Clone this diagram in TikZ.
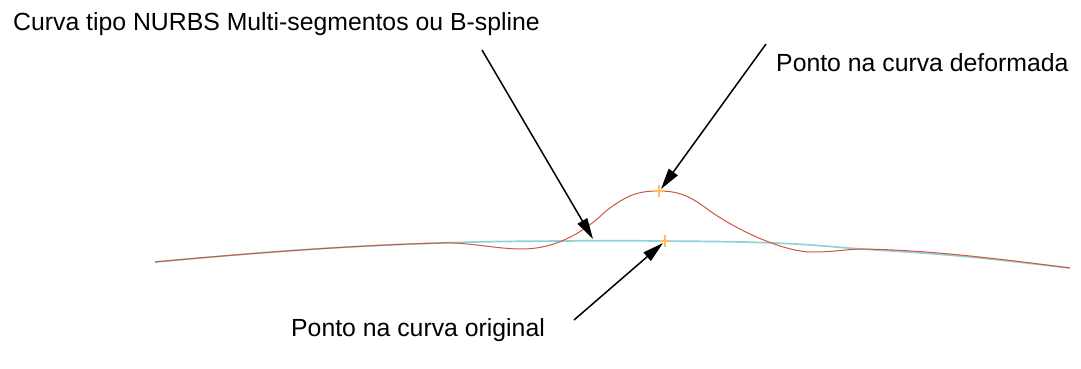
\documentclass[tikz,border=0pt]{standalone}
\usepackage{fontspec}
\setmainfont{Liberation Sans}
\usetikzlibrary{arrows.meta}
\definecolor{redc}{HTML}{D2553F}
\definecolor{cyanc}{HTML}{8FD3D6}
\definecolor{markc}{HTML}{FFBE5C}
\tikzset{
  lbl/.style={inner sep=0pt, anchor=base west, font=\fontsize{24.8}{29}\selectfont},
  arr/.style={line width=1.5pt, -{Triangle[length=21pt,width=11pt]}},
  orig/.style={cyanc, line width=1.7pt},
  deform/.style={redc, line width=1pt},
  ptmark/.style={markc, line width=1.4pt}
}
\begin{document}
\begin{tikzpicture}[x=1pt,y=-1pt]
\useasboundingbox (0,0) rectangle (1081,368);
% original curve
\draw[orig] plot[smooth, tension=0.7] coordinates {(155,262) (300,250) (440,243) (560,241) (660,241) (775,243) (862,249) (960,256) (1070,268)};
% deformed curve
\draw[deform] (155,262) .. controls (250,253) and (360,245) .. (440,243)
  .. controls (470,242) and (495,249) .. (522,249)
  .. controls (552,249) and (580,236) .. (606,211)
  .. controls (627,195) and (638,191) .. (658,191)
  .. controls (678,191) and (689,195) .. (710,211)
  .. controls (740,232) and (785,252) .. (812,252)
  .. controls (835,252) and (848,249) .. (862,249)
  .. controls (930,250) and (1000,259) .. (1070,268);
% points
\coordinate (pdef) at (659,191);
\coordinate (porig) at (665,241);
\coordinate (pcurve) at (593,239);
\draw[ptmark] (654,191) -- (664,191) (659,185) -- (659,197);
\draw[ptmark] (660,241) -- (670,241) (665,235) -- (665,247);
% labels
\node[lbl] (t1) at (13,30) {Curva tipo NURBS Multi-segmentos ou B-spline};
\node[lbl] (t2) at (776,71) {Ponto na curva deformada};
\node[lbl] (t3) at (291,336) {Ponto na curva original};
% arrow starts
\coordinate (s1) at (482,50);
\coordinate (s2) at (766,44);
\coordinate (s3) at (574,320);
\coordinate (e2) at (661,189);
\coordinate (e3) at (663,243);
\draw[arr] (s1) -- (pcurve);
\draw[arr] (s2) -- (e2);
\draw[arr] (s3) -- (e3);
\end{tikzpicture}
\end{document}
